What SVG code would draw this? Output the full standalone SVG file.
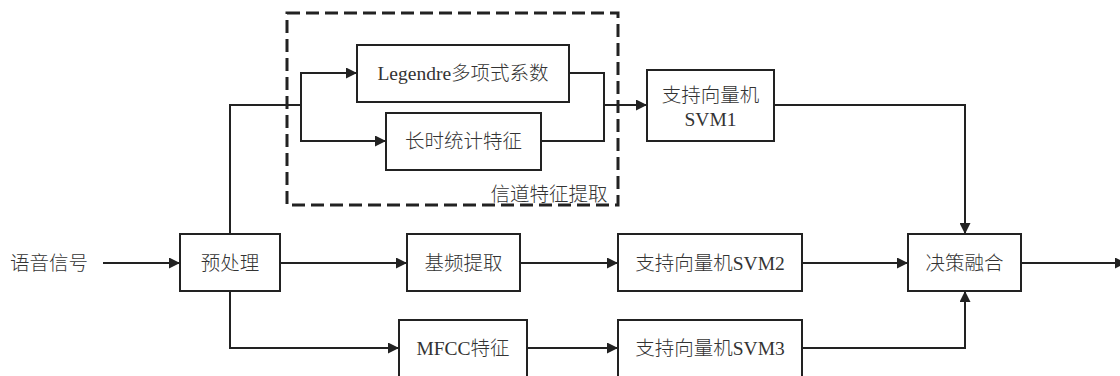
<svg xmlns="http://www.w3.org/2000/svg" width="1120" height="376" viewBox="0 0 1120 376">
<style>
.box{fill:#fff;stroke:#222;stroke-width:2}
.t{font-family:"Liberation Serif","Noto Sans CJK SC",serif;font-size:19.5px;font-weight:300;fill:#333;text-anchor:middle;dominant-baseline:central}
.c{fill:none;stroke:#222;stroke-width:2}
.a{marker-end:url(#arr)}
</style>
<defs>
<marker id="arr" markerUnits="userSpaceOnUse" markerWidth="11" markerHeight="11" refX="10" refY="5" orient="auto" viewBox="0 0 10 10">
<path d="M0,0 L10,5 L0,10 z" fill="#222"/>
</marker>
</defs>
<rect width="1120" height="376" fill="#fff"/>
<g id="connectors">
<path class="c a" d="M103,263 H180"/>
<path class="c a" d="M280,263 H407"/>
<path class="c a" d="M520,263 H618"/>
<path class="c a" d="M802,263 H908"/>
<path class="c a" d="M1021,263 H1126"/>
<path class="c" d="M230,234 V105 H301"/>
<path class="c a" d="M301,105 V73 H357"/>
<path class="c a" d="M301,105 V141 H386"/>
<path class="c" d="M569,73 H604 V141 H541"/>
<path class="c a" d="M604,105 H647"/>
<path class="c a" d="M774,105 H965 V234"/>
<path class="c a" d="M230,291 V348 H399"/>
<path class="c a" d="M527,348 H618"/>
<path class="c a" d="M802,348 H965 V291"/>
</g>
<g id="group-channel">
<rect x="287" y="13" width="331" height="192" fill="none" stroke="#222" stroke-width="3" stroke-dasharray="13 6"/>
<text class="t" x="549" y="194">信道特征提取</text>
</g>
<g id="n-input"><text class="t" x="49" y="263">语音信号</text></g>
<g id="n-pre"><rect class="box" x="180" y="234" width="100" height="57"/><text class="t" x="230" y="263">预处理</text></g>
<g id="n-legendre"><rect class="box" x="357" y="45" width="212" height="57"/><text class="t" x="463" y="73">Legendre多项式系数</text></g>
<g id="n-long"><rect class="box" x="386" y="113" width="155" height="57"/><text class="t" x="463.5" y="141">长时统计特征</text></g>
<g id="n-svm1"><rect class="box" x="647" y="70" width="127" height="71"/><text class="t" x="710.5" y="95">支持向量机</text><text class="t" x="710.5" y="119">SVM1</text></g>
<g id="n-f0"><rect class="box" x="407" y="234" width="113" height="57"/><text class="t" x="463.5" y="263">基频提取</text></g>
<g id="n-mfcc"><rect class="box" x="399" y="320" width="128" height="62"/><text class="t" x="463" y="348">MFCC特征</text></g>
<g id="n-svm2"><rect class="box" x="618" y="234" width="184" height="57"/><text class="t" x="710" y="263">支持向量机SVM2</text></g>
<g id="n-svm3"><rect class="box" x="618" y="320" width="184" height="62"/><text class="t" x="710" y="348">支持向量机SVM3</text></g>
<g id="n-fusion"><rect class="box" x="908" y="234" width="113" height="57"/><text class="t" x="964.5" y="263">决策融合</text></g>
</svg>
